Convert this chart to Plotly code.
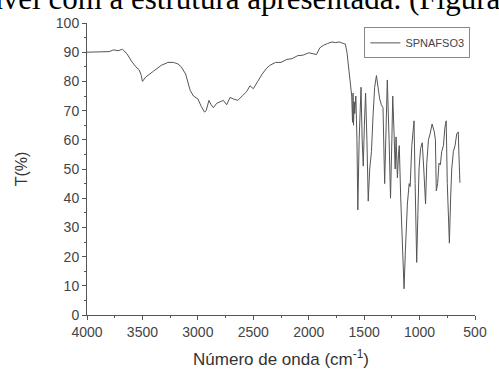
import plotly.graph_objects as go

wavenumber = [4000, 3900, 3800, 3760, 3720, 3680, 3640, 3600, 3560, 3530, 3510, 3500, 3470, 3400, 3330,
              3270, 3220, 3180, 3150, 3110, 3070, 3040, 3000, 2970, 2940, 2925, 2900, 2880, 2860, 2830,
              2800, 2770, 2740, 2710, 2680, 2640, 2600, 2560, 2530, 2500, 2460, 2420, 2380, 2350, 2300,
              2250, 2200, 2150, 2100, 2050, 2000, 1960, 1930, 1900, 1870, 1830, 1790, 1760, 1720, 1690,
              1670, 1655, 1640, 1625, 1612,
              1605, 1600, 1596, 1590, 1585, 1575, 1565, 1557, 1545, 1535, 1528, 1518, 1508, 1498, 1487,
              1475, 1463, 1450, 1434, 1420, 1405, 1389, 1375, 1360, 1345, 1330, 1315, 1303, 1291, 1275,
              1262, 1250, 1242, 1230, 1220, 1212, 1200, 1190, 1183, 1170, 1155, 1140, 1128, 1110, 1094,
              1085, 1070, 1058, 1050, 1040, 1026, 1015, 1005, 991, 976, 962, 946, 935, 920, 905, 887,
              867, 857, 849, 837, 825, 813, 800, 785, 772, 760, 750, 731, 720, 710, 695, 680, 665, 651,
              645, 636]
transmittance = [90, 90, 90.2, 90.8, 90.5, 91, 89.5, 87, 85, 84, 82, 80, 81.5, 83.5, 85.5,
                 86.5, 86.5, 86, 85, 82.5, 77, 75, 74, 71.5, 69.5, 70, 73.5, 72, 71, 72.5,
                 73, 73.5, 72, 74.5, 74, 73.5, 75, 76.5, 78.5, 77.5, 80, 82.5, 84.5, 85.5, 86.5,
                 86.5, 87.5, 87.8, 88.8, 89, 89.8, 89.5, 89.2, 91.5, 92.3, 93, 93.5, 93.3, 93.5, 93,
                 92.8, 90, 84, 79, 75,
                 66, 76, 65, 73, 69, 75, 60, 36, 60, 72, 78, 60, 51, 65, 76,
                 60, 39, 50, 56, 68, 78, 82, 77, 74, 72, 71, 45, 65, 80.5, 60,
                 40, 60, 75, 62, 50, 61, 47, 55, 58, 40, 22, 9, 22, 38, 45,
                 44, 58, 64, 66.5, 45, 18, 35, 50, 57, 59, 50, 38, 52, 60, 62, 65.4,
                 62.7, 60, 42.5, 45, 52, 51.4, 56, 58, 64, 66.5, 45, 24.6, 40, 50, 56, 58, 62, 62.7,
                 55, 45.3]

series_name = "SPNAFSO3"
x_ticks = [4000, 3500, 3000, 2500, 2000, 1500, 1000, 500]
y_ticks = [0, 10, 20, 30, 40, 50, 60, 70, 80, 90, 100]

axis_color = "#555555"
sans = "Liberation Sans, Arial, sans-serif"
tick_font = dict(family=sans, size=14, color="#444444")

fig = go.Figure()
fig.add_trace(go.Scatter(x=wavenumber, y=transmittance, mode="lines", name=series_name,
                         line=dict(color="#555555", width=1)))

fig.update_layout(
    width=499, height=378,
    margin=dict(l=87, r=17, t=23, b=58),
    paper_bgcolor="white", plot_bgcolor="white",
    showlegend=True,
    legend=dict(x=0.715, y=0.985, xanchor="left", yanchor="top",
                bordercolor="#888888", borderwidth=1, bgcolor="white",
                font=dict(family=sans, size=11, color="#444444"),
                itemwidth=30, tracegroupgap=0),
    annotations=[dict(text="ável com a estrutura apresentada. (Figura",
                      xref="paper", yref="paper", x=(248 - 87) / 395, y=1.0,
                      yshift=5, xanchor="center", yanchor="bottom", showarrow=False,
                      font=dict(family="Liberation Serif, Times New Roman, serif", size=31, color="black"))],
)
fig.update_xaxes(range=[4000, 500], tickvals=x_ticks, showline=True, linecolor=axis_color, linewidth=1,
                 ticks="outside", ticklen=4, tickcolor=axis_color, showgrid=False, zeroline=False,
                 tickfont=tick_font,
                 minor=dict(dtick=250, ticks="outside", ticklen=2, tickcolor=axis_color, showgrid=False),
                 title=dict(text="Número de onda (cm<sup>-1</sup>)", font=dict(family=sans, size=17, color="#333333"), standoff=14))
fig.update_yaxes(range=[0, 100], tickvals=y_ticks, showline=True, linecolor=axis_color, linewidth=1,
                 ticks="outside", ticklen=4, tickcolor=axis_color, showgrid=False, zeroline=False,
                 tickfont=tick_font,
                 minor=dict(dtick=5, ticks="outside", ticklen=2, tickcolor=axis_color, showgrid=False),
                 title=dict(text="T(%)", font=dict(family=sans, size=16, color="#333333"), standoff=24))

fig.write_html("out.html")
